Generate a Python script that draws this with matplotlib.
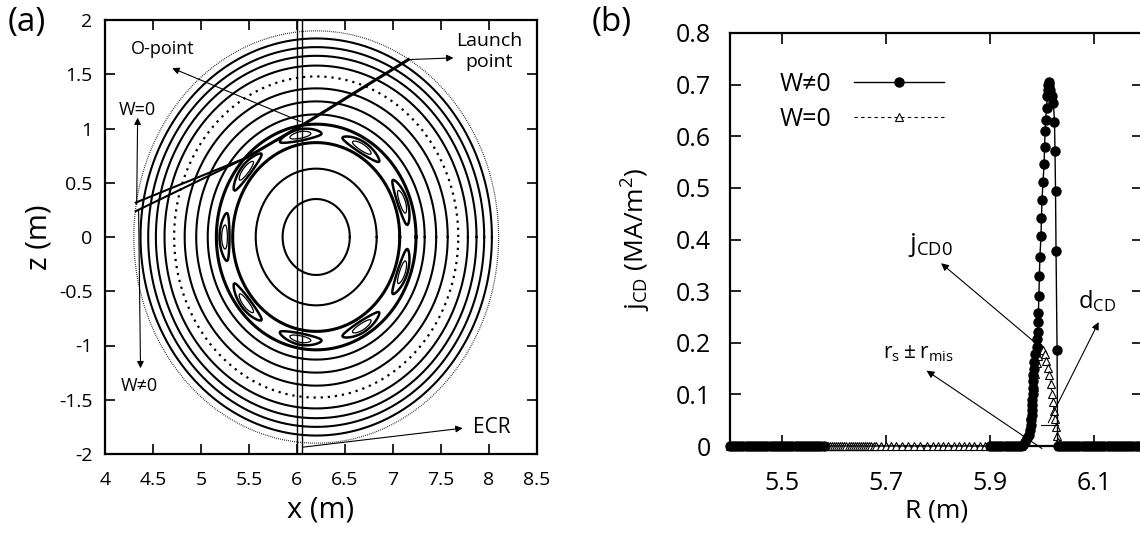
import numpy as np
import matplotlib
matplotlib.use('Agg')
import matplotlib.pyplot as plt

plt.rcParams['font.family'] = ['Open Sans', 'DejaVu Sans']
plt.rcParams['mathtext.default'] = 'regular'
plt.rcParams['contour.negative_linestyle'] = 'solid'

# ---------------- Panel (a) data ----------------
surf_x0 = 6.2
surf_z0 = 0.0
solid_radii = [0.35, 0.63, 1.13, 1.25, 1.37, 1.58, 1.67, 1.75, 1.83]
dotted_radii = [1.48]
outer_radii = [1.90]
island_bound_radii = [0.87, 1.04]
island_rs = 0.955
island_w = 0.06
island_m = 9
island_theta0_deg = 20.0
ecr_x = [6.0, 6.05]
ray_common_x = [7.16, 6.09, 5.47]
ray_common_z = [1.635, 1.05, 0.73]
ray_w0_x = [5.47, 4.32]
ray_w0_z = [0.73, 0.317]
ray_w1_x = [5.47, 4.32]
ray_w1_z = [0.73, 0.238]
xticks_a = [4, 4.5, 5, 5.5, 6, 6.5, 7, 7.5, 8, 8.5]
xtlab_a = ['4', '4.5', '5', '5.5', '6', '6.5', '7', '7.5', '8', '8.5']
yticks_a = [-2, -1.5, -1, -0.5, 0, 0.5, 1, 1.5, 2]
ytlab_a = ['-2', '-1.5', '-1', '-0.5', '0', '0.5', '1', '1.5', '2']

# ---------------- Panel (b) data ----------------
# W != 0 (filled circles, solid line)
R_w1 = [5.400, 5.406, 5.412, 5.418, 5.424, 5.430, 5.436, 5.442, 5.448, 5.454,
        5.460, 5.466, 5.472, 5.478, 5.484, 5.490, 5.496, 5.502, 5.508, 5.514,
        5.520, 5.526, 5.532, 5.538, 5.544, 5.550, 5.556, 5.562, 5.568, 5.574,
        5.580,
        5.900, 5.906, 5.912, 5.918, 5.924, 5.930, 5.936, 5.942, 5.948, 5.954,
        5.960, 5.964, 5.968, 5.972, 5.975, 5.976, 5.978, 5.979, 5.980, 5.980,
        5.981, 5.981, 5.982, 5.982, 5.983, 5.983, 5.984, 5.985, 5.987, 5.990,
        5.991, 5.992, 5.993, 5.993, 5.994, 5.995, 5.996, 5.998, 5.999, 6.000,
        6.002, 6.004, 6.005, 6.006, 6.007, 6.009, 6.010, 6.011, 6.012, 6.013,
        6.014, 6.016, 6.019, 6.022, 6.024, 6.025, 6.026, 6.027, 6.029, 6.030,
        6.036, 6.042, 6.048, 6.054, 6.060, 6.066, 6.072, 6.078, 6.084, 6.090,
        6.096, 6.102, 6.108, 6.114, 6.120, 6.126, 6.132, 6.138, 6.144, 6.150,
        6.156, 6.162, 6.168, 6.174, 6.180, 6.186, 6.192]
j_w1 = [0.0] * 31 + \
       [0.0] * 10 + \
       [0.000, 0.002, 0.008, 0.015, 0.022, 0.031, 0.040, 0.050, 0.060, 0.070,
        0.080, 0.089, 0.100, 0.112, 0.125, 0.137, 0.150, 0.163, 0.178, 0.192,
        0.207, 0.221, 0.240, 0.258, 0.290, 0.330, 0.367, 0.406, 0.442, 0.477,
        0.512, 0.547, 0.580, 0.611, 0.632, 0.655, 0.677, 0.690, 0.700, 0.705,
        0.700, 0.690, 0.677, 0.665, 0.628, 0.572, 0.493, 0.377, 0.185, 0.000] + \
       [0.0] * 27
# W = 0 (open triangles, dashed line)
R_w0 = [5.400, 5.440, 5.480, 5.520, 5.560,
        5.580, 5.584, 5.588, 5.592, 5.596, 5.600, 5.604, 5.608, 5.612, 5.616,
        5.620, 5.624, 5.628, 5.632, 5.636, 5.640, 5.644, 5.648, 5.652, 5.656,
        5.660, 5.664, 5.668, 5.672, 5.676, 5.680, 5.690, 5.700, 5.710, 5.720,
        5.730, 5.742, 5.754, 5.766, 5.778, 5.790, 5.800, 5.810, 5.820, 5.830,
        5.840, 5.850, 5.860, 5.870, 5.880, 5.890, 5.900, 5.920, 5.940,
        5.960, 5.968, 5.973, 5.977, 5.981, 5.984, 5.987, 5.990, 5.993, 5.996,
        5.999, 6.002, 6.005, 6.008, 6.011, 6.014, 6.017, 6.019, 6.021, 6.023,
        6.025, 6.027, 6.029, 6.031, 6.033,
        6.060, 6.100, 6.140, 6.180]
j_w0 = [0.0] * 54 + \
       [0.000, 0.010, 0.030, 0.060, 0.090, 0.115, 0.140, 0.160, 0.175, 0.185,
        0.190, 0.186, 0.178, 0.165, 0.152, 0.138, 0.120, 0.100, 0.085, 0.068,
        0.052, 0.036, 0.020, 0.008, 0.000] + \
       [0.0] * 4
xticks_b = [5.5, 5.7, 5.9, 6.1]
xtlab_b = ['5.5', '5.7', '5.9', '6.1']
yticks_b = [0, 0.1, 0.2, 0.3, 0.4, 0.5, 0.6, 0.7, 0.8]
ytlab_b = ['0', '0.1', '0.2', '0.3', '0.4', '0.5', '0.6', '0.7', '0.8']

# ---------------- Figure ----------------
W, H = 1140, 541
fig = plt.figure(figsize=(W / 100, H / 100), dpi=100)
fig.patch.set_facecolor('white')

def px_axes(l, t, r, b):
    return fig.add_axes([l / W, 1 - b / H, (r - l) / W, (b - t) / H])

narrow = ['Open Sans', 'DejaVu Sans']

# ===== Panel (a) =====
ax = px_axes(105, 20, 537, 454)
ax.set_xlim(4, 8.5)
ax.set_ylim(-2, 2)
th = np.linspace(0, 2 * np.pi, 721)
def ring(r):
    return surf_x0 + r * np.cos(th), surf_z0 + r * np.sin(th)
for r in solid_radii:
    ax.plot(*ring(r), color='k', lw=1.5)
for r in dotted_radii:
    ax.plot(*ring(r), color='k', lw=1.6, linestyle=(0, (1.0, 2.2)))
for r in outer_radii:
    ax.plot(*ring(r), color='k', lw=0.9, linestyle=(0, (0.6, 1.0)))
for r in island_bound_radii:
    ax.plot(*ring(r), color='k', lw=2.2)

# magnetic island chain (crescents)
gx = np.linspace(4.9, 7.5, 700)
gz = np.linspace(-1.3, 1.3, 700)
GX, GZ = np.meshgrid(gx, gz)
rr = np.hypot(GX - surf_x0, GZ - surf_z0)
tt = np.arctan2(GZ - surf_z0, GX - surf_x0)
psi = (rr - island_rs) ** 2 - island_w ** 2 * np.cos(
    island_m * (tt - np.deg2rad(island_theta0_deg)) / 2) ** 2
w2 = island_w ** 2
ax.contour(GX, GZ, psi, levels=[-0.25 * w2], colors='k', linewidths=1.8,
           linestyles='solid')
ax.contour(GX, GZ, psi, levels=[-0.75 * w2], colors='k', linewidths=0.9,
           linestyles='solid')

# ECR layer
for xe in ecr_x:
    ax.axvline(xe, color='k', lw=1.0)

# rays
ax.plot(ray_common_x, ray_common_z, color='k', lw=2.2)
ax.plot(ray_w0_x, ray_w0_z, color='k', lw=1.5)
ax.plot(ray_w1_x, ray_w1_z, color='k', lw=1.5)

ap = dict(arrowstyle='-|>', color='k', lw=0.8, mutation_scale=10, shrinkA=0, shrinkB=0)
ax.annotate('', xy=(4.70, 1.556), xytext=(6.04, 1.063), arrowprops=ap)
ax.text(4.605, 1.73, 'O-point', ha='center', va='center', fontsize=13, family=narrow)
ax.annotate('', xy=(7.63, 1.651), xytext=(7.16, 1.635), arrowprops=ap)
ax.text(8.0, 1.71, 'Launch\npoint', ha='center', va='center', fontsize=14,
        family=narrow, linespacing=1.25)
ax.annotate('', xy=(7.725, -1.762), xytext=(6.06, -1.937), arrowprops=ap)
ax.text(8.03, -1.76, 'ECR', ha='center', va='center', fontsize=15, family=narrow)
ax.annotate('', xy=(4.34, 1.10), xytext=(4.33, 0.30), arrowprops=ap)
ax.annotate('', xy=(4.37, -1.21), xytext=(4.35, 0.25), arrowprops=ap)
ax.text(4.34, 1.175, 'W=0', ha='center', va='center', fontsize=13, family=narrow)
ax.text(4.36, -1.37, 'W\u22600', ha='center', va='center', fontsize=13, family=narrow)

ax.set_xticks(xticks_a)
ax.set_xticklabels(xtlab_a, family=narrow)
ax.set_yticks(yticks_a)
ax.set_yticklabels(ytlab_a, family=narrow)
ax.tick_params(axis='x', pad=12)
ax.tick_params(axis='y', pad=9)
ax.tick_params(direction='in', length=7, width=1.2, top=True, right=True,
               labelsize=14)
for s in ax.spines.values():
    s.set_linewidth(1.6)
ax.set_xlabel('x (m)', fontsize=21, labelpad=5)
ax.set_ylabel('z (m)', fontsize=21, labelpad=4)
fig.text(27 / W, 1 - 22 / H, '(a)', fontsize=24, ha='center', va='center')

# ===== Panel (b) =====
bx = px_axes(730, 33, 1143, 446)
bx.set_xlim(5.4, 5.4 + 413 / 520)
bx.set_ylim(0, 0.8)
h1, = bx.plot(R_w1, j_w1, '-', color='k', lw=1.0, marker='o', ms=6.5,
              mfc='k', mec='k', clip_on=False, zorder=4)
h0, = bx.plot(R_w0, j_w0, linestyle=(0, (3, 3)), color='k', lw=0.8, marker='^', ms=6,
              mfc='white', mec='k', mew=0.8, clip_on=False, zorder=3)

ap2 = dict(arrowstyle='-|>', color='k', lw=0.8, mutation_scale=11, shrinkA=0, shrinkB=0)
bx.annotate('', xy=(5.806, 0.354), xytext=(5.993, 0.195), arrowprops=ap2)
bx.annotate('', xy=(5.778, 0.146), xytext=(6.000, -0.005), arrowprops=ap2,
            annotation_clip=False)
bx.annotate('', xy=(6.109, 0.240), xytext=(6.012, 0.045), arrowprops=ap2)
bx.plot([5.999, 6.031], [0.040, 0.040], color='k', lw=0.8, zorder=5)
bx.text(5.785, 0.39, r'$\mathregular{j_{CD0}}$', fontsize=19, ha='center', va='center')
bx.text(6.105, 0.28, r'$\mathregular{d_{CD}}$', fontsize=17, ha='center', va='center')
bx.text(5.763, 0.18, r'$\mathregular{r_s \pm r_{mis}}$', fontsize=15, ha='center', va='center')

leg = bx.legend([h1, h0], ['W\u22600', 'W=0'], loc='upper left',
                bbox_to_anchor=(0.12, 0.905), frameon=False, markerfirst=False,
                numpoints=1, handlelength=3.6, handletextpad=0.9, labelspacing=0.4,
                fontsize=18, borderaxespad=0, borderpad=0)

bx.set_xticks(xticks_b)
bx.set_xticklabels(xtlab_b)
bx.set_yticks(yticks_b)
bx.set_yticklabels(ytlab_b)
bx.tick_params(axis='x', pad=18)
bx.tick_params(axis='y', pad=14)
bx.tick_params(direction='in', length=8, width=1.2, top=True, right=True,
               labelsize=18)
for s in bx.spines.values():
    s.set_linewidth(1.6)
bx.set_xlabel('R (m)', fontsize=19, labelpad=2)
bx.set_ylabel(r'$\mathregular{j_{CD}}$ (MA/m$^2$)', fontsize=19, labelpad=16)
fig.text(612 / W, 1 - 22 / H, '(b)', fontsize=24, ha='center', va='center')

fig.savefig('out.png', dpi=100, facecolor='white')
